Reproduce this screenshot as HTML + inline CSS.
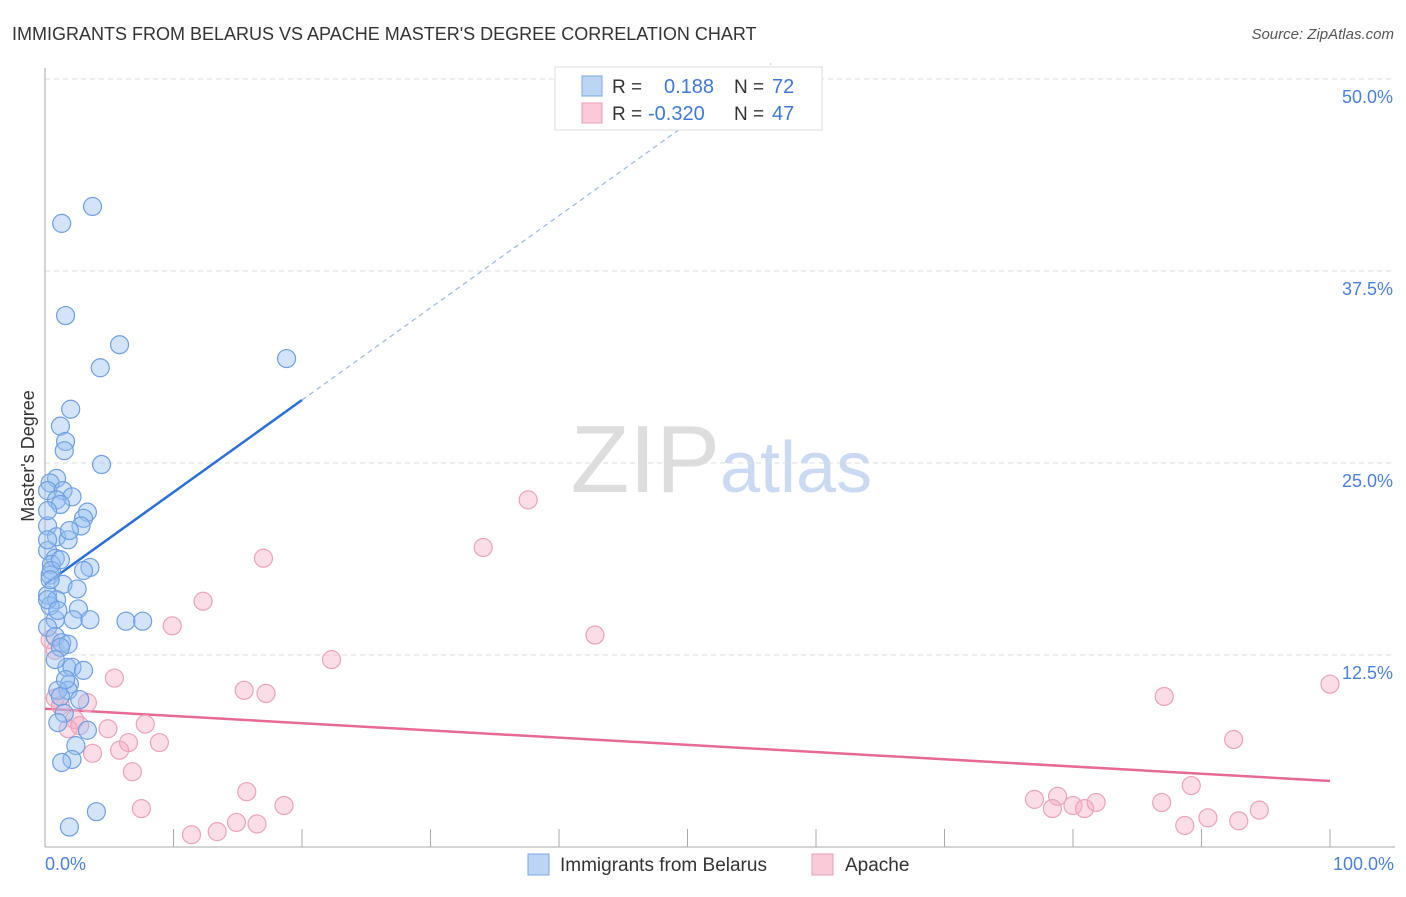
<!DOCTYPE html>
<html><head><meta charset="utf-8"><style>
body{margin:0;background:#fff;font-family:"Liberation Sans",sans-serif}
svg text{font-family:"Liberation Sans",sans-serif}
</style></head><body>
<svg id="c" width="1406" height="892">
<text x="12" y="40" font-size="18" fill="#333">IMMIGRANTS FROM BELARUS VS APACHE MASTER'S DEGREE CORRELATION CHART</text>
<text x="1394" y="39" font-size="15" fill="#555" font-style="italic" text-anchor="end">Source: ZipAtlas.com</text>
<text x="720" y="492" font-size="96" fill="#ddd" text-anchor="end" font-family="Liberation Serif">ZIP</text>
<text x="720" y="492" font-size="72" fill="#c9daf2">atlas</text>
<g id="grid"></g><g id="axes"></g><g id="lines"></g><g id="pts"></g>
<text transform="translate(34,456) rotate(-90)" font-size="18" fill="#333" text-anchor="middle">Master's Degree</text>
<text x="45" y="870" font-size="18" fill="#4a80d8">0.0%</text>
<text x="1394" y="870" font-size="18" fill="#4a80d8" text-anchor="end">100.0%</text>
<g>
<rect x="555" y="67" width="267" height="63" fill="#fff" stroke="#ddd"/>
<rect x="582" y="76" width="20" height="20" fill="#bcd5f5" stroke="#7aa6e2"/>
<rect x="582" y="103" width="20" height="20" fill="#f9cbd9" stroke="#eaa0b8"/>
<text x="612" y="93" font-size="19" fill="#333">R =</text><text x="664" y="93" font-size="20" fill="#3f7ad6">0.188</text>
<text x="734" y="93" font-size="19" fill="#333">N =</text><text x="772" y="93" font-size="20" fill="#3f7ad6">72</text>
<text x="612" y="120" font-size="19" fill="#333">R =</text><text x="648" y="120" font-size="20" fill="#3f7ad6">-0.320</text>
<text x="734" y="120" font-size="19" fill="#333">N =</text><text x="772" y="120" font-size="20" fill="#3f7ad6">47</text>
</g>
<g>
<rect x="528" y="854" width="21" height="21" fill="#bcd5f5" stroke="#7aa6e2"/>
<text x="560" y="871" font-size="19" fill="#333">Immigrants from Belarus</text>
<rect x="812" y="854" width="21" height="21" fill="#f9cbd9" stroke="#eaa0b8"/>
<text x="845" y="871" font-size="19" fill="#333">Apache</text>
</g>
</svg>
<script>
const yTicks=[12.5,25,37.5,50];
const yTickLabels=["12.5%","25.0%","37.5%","50.0%"];
const blueX=[3.7,1.3,1.6,5.8,4.3,18.8,2.0,1.2,1.6,1.5,4.4,0.9,0.4,0.2,1.4,2.1,0.9,1.2,3.3,3.0,2.8,0.2,0.9,1.8,0.2,0.8,0.5,3.5,3.0,0.4,1.4,2.5,0.2,0.9,0.4,2.6,0.8,2.2,6.3,7.6,0.2,0.8,1.3,1.8,1.2,1.7,2.1,3.0,1.9,1.8,1.0,1.2,1.5,1.0,3.3,2.4,2.1,1.3,4.0,1.9,0.2,0.2,0.5,0.2,0.8,1.6,2.7,0.4,1.2,1.9,3.5,1.0];
const blueY=[41.7,40.6,34.6,32.7,31.2,31.8,28.5,27.4,26.4,25.8,24.9,24.0,23.7,23.2,23.2,22.8,22.6,22.3,21.8,21.4,20.9,20.9,20.2,20.0,19.3,18.8,18.4,18.2,18.0,17.7,17.1,16.8,16.4,16.1,15.7,15.5,14.8,14.8,14.7,14.7,14.3,13.7,13.3,13.2,13.0,11.7,11.7,11.5,10.6,10.2,10.2,9.8,8.7,8.1,7.6,6.6,5.7,5.5,2.3,1.3,21.9,20.0,18.0,16.1,12.2,10.9,9.6,17.4,18.7,20.6,14.8,15.4];
const pinkX=[37.6,34.1,17.0,12.3,9.9,42.8,22.3,100,87.1,15.5,17.2,5.4,0.8,3.3,1.2,2.3,1.8,7.8,4.9,6.5,8.9,3.7,5.8,92.5,6.8,89.2,15.7,7.5,18.6,77.0,78.8,78.4,80.0,80.9,81.8,86.9,14.9,16.5,11.4,13.4,88.7,90.5,92.9,94.5,0.4,0.8,2.7];
const pinkY=[22.6,19.5,18.8,16.0,14.4,13.8,12.2,10.6,9.8,10.2,10.0,11.0,9.7,9.4,9.2,8.3,7.7,8.0,7.7,6.8,6.8,6.1,6.3,7.0,4.9,4.0,3.6,2.5,2.7,3.1,3.3,2.5,2.7,2.5,2.9,2.9,1.6,1.5,0.8,1.0,1.4,1.9,1.7,2.4,13.5,12.8,7.9];
const blueTrend=[17.1,0.6];   // intercept, slope per %
const pinkTrend=[9.0,4.3];    // y at 0%, y at 100%
const NS="http://www.w3.org/2000/svg";
const X=v=>45+v*12.85, Y=v=>847-v*15.36;
function mk(t,a,p){const e=document.createElementNS(NS,t);for(const k in a)e.setAttribute(k,a[k]);p.appendChild(e);return e;}
const g=document.getElementById('grid'),ax=document.getElementById('axes'),ln=document.getElementById('lines'),pts=document.getElementById('pts');
yTicks.forEach((t,i)=>{
 const l=mk('line',{x1:45,x2:1395,y1:Y(t),y2:Y(t),stroke:'#ddd','stroke-dasharray':'5,4'},g);
 
 
 const tx=mk('text',{x:1393,y:Y(t)+24,'font-size':18,fill:'#4a80d8','text-anchor':'end'},g);
 tx.textContent=yTickLabels[i];
 
 
});
let a=mk('line',{x1:45,x2:45,y1:68,y2:847,stroke:'#aaa'},ax);


a=mk('line',{x1:45,x2:1395,y1:847,y2:847,stroke:'#aaa'},ax);


for(let i=0;i<=10;i++){const t=mk('line',{x1:X(i*10),x2:X(i*10),y1:829,y2:847,stroke:'#aaa'},ax);
 
 }
const bl=mk('line',{x1:X(0),y1:Y(blueTrend[0]),x2:X(20),y2:Y(blueTrend[0]+20*blueTrend[1]),stroke:'#2a6fd6','stroke-width':2.5},ln);


const xe=(51-blueTrend[0])/blueTrend[1];
const bd=mk('line',{x1:X(20),y1:Y(blueTrend[0]+20*blueTrend[1]),x2:X(xe),y2:Y(51),stroke:'#9ab8e4','stroke-width':1.2,'stroke-dasharray':'5,4'},ln);


const pl=mk('line',{x1:X(0),y1:Y(pinkTrend[0]),x2:X(100),y2:Y(pinkTrend[1]),stroke:'#e66a94','stroke-width':2.5},ln);


pinkX.forEach((v,i)=>{const c=mk('circle',{cx:X(v),cy:Y(pinkY[i]),r:9,fill:'rgba(245,170,195,0.4)',stroke:'#eca2bb','stroke-width':1.2},pts);
 
 });
blueX.forEach((v,i)=>{const c=mk('circle',{cx:X(v),cy:Y(blueY[i]),r:9,fill:'rgba(150,190,240,0.42)',stroke:'#6f9fe0','stroke-width':1.2},pts);
 
 });
</script>
</body></html>
